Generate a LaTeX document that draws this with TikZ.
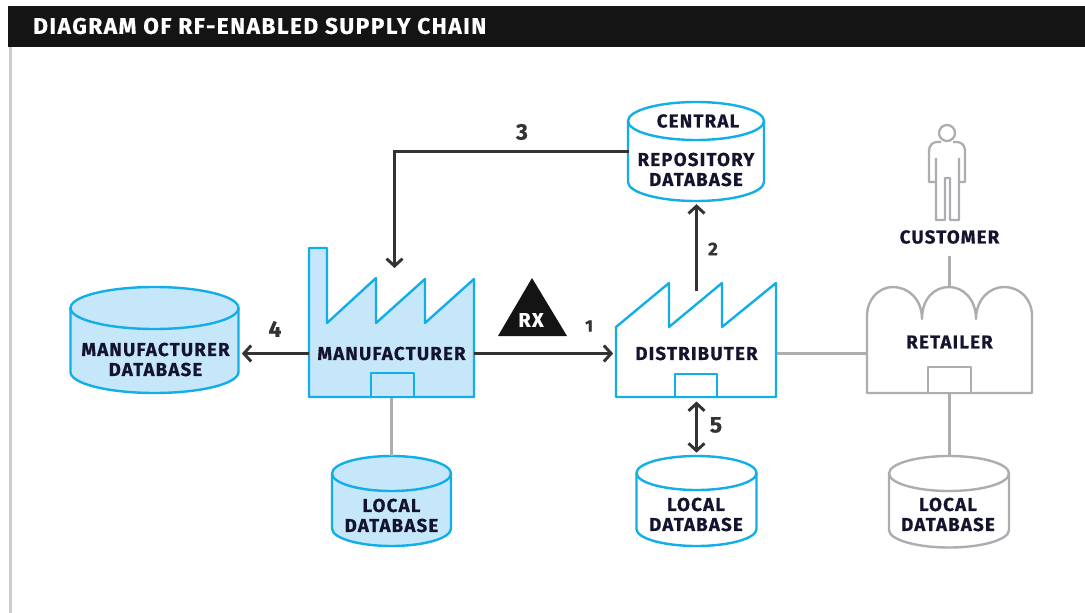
\documentclass[tikz,border=0pt]{standalone}
\usepackage{fontspec}
\setmainfont{Fira Sans}[LetterSpace=6.5,BoldFeatures={FakeBold=0.5}]
\usetikzlibrary{arrows.meta}
\definecolor{cyanline}{HTML}{12AEE8}
\definecolor{cyanfill}{HTML}{C6E7F9}
\definecolor{greyline}{HTML}{ABADB0}
\definecolor{arrowdark}{HTML}{333333}
\definecolor{labelink}{HTML}{14142E}
\tikzset{
  x=0.75pt,y=-0.75pt,
  >={Straight Barb[length=5.5pt,width=12pt]},
  lbl/.style={font=\fontsize{14}{15}\selectfont\bfseries,text=labelink,align=center,inner sep=0pt,outer sep=0pt},
  numlbl/.style={font=\fontsize{17}{18}\selectfont\bfseries,text=arrowdark,inner sep=0pt},
  anchorbox/.style={inner sep=0pt,outer sep=0pt,draw=none,fill=none},
  bluefill/.style={draw=cyanline,fill=cyanfill,line width=1.8pt,line join=round},
  blueopen/.style={draw=cyanline,fill=white,line width=1.8pt,line join=round},
  greyopen/.style={draw=greyline,fill=white,line width=1.8pt,line join=round},
  flow/.style={draw=arrowdark,line width=2.2pt,->},
  flowboth/.style={draw=arrowdark,line width=2.2pt,<->},
  tie/.style={draw=greyline,line width=2.2pt},
}
% centre x, top-ellipse centre y, bottom-ellipse centre y, rx, ry, style
\newcommand{\dbdrum}[6]{%
  \path[#6] (#1-#4,#2) -- (#1-#4,#3) arc[start angle=180,end angle=360,x radius=#4,y radius=-#5] -- (#1+#4,#2)
     arc[start angle=0,end angle=180,x radius=#4,y radius=-#5] -- cycle;
  \path[#6,fill=none] (#1-#4,#2) arc[start angle=180,end angle=360,x radius=#4,y radius=-#5];
}
\begin{document}
\begin{tikzpicture}
\useasboundingbox (0,0) rectangle (1085,613);
\fill[white] (0,0) rectangle (1085,613);
% page furniture
\fill[black!92] (8,6) rectangle (1085,47);
\fill[black!20] (8.5,47) rectangle (11.5,613);
\node[font=\fontsize{17}{18}\selectfont\bfseries,text=white,anchor=west,inner sep=0pt] (title) at (33,26) {DIAGRAM OF RF-ENABLED SUPPLY CHAIN};

% databases
\dbdrum{154.5}{308}{372}{84}{21}{bluefill}
\dbdrum{391.5}{473.5}{528.5}{59.5}{17.5}{bluefill}
\dbdrum{696}{121}{182}{68}{19}{blueopen}
\dbdrum{696.5}{473}{529}{60}{17}{blueopen}
\dbdrum{949}{473.5}{530}{60}{17.5}{greyopen}

% manufacturer factory
\path[bluefill] (309,248) -- (327,248) -- (327,323) -- (376,278) -- (376,323) -- (425,279) -- (425,323) -- (474,279) -- (474,397) -- (309,397) -- cycle;
\path[bluefill] (371,373) rectangle (414,397);
% distributer factory
\path[blueopen] (616,327) -- (669,283) -- (669,327) -- (722,283) -- (722,327) -- (776,283) -- (776,397) -- (616,397) -- cycle;
\path[blueopen] (675,374) rectangle (717,397);
% retailer
\path[greyopen] (867,393) -- (867,316) .. controls (867,299) and (879,287) .. (893,287) .. controls (908,287) and (922,299) .. (922,319)
   .. controls (922,299) and (934,287) .. (949,287) .. controls (963,287) and (976,299) .. (976,319)
   .. controls (976,299) and (990,287) .. (1004,287) .. controls (1020,287) and (1032,299) .. (1032,316) -- (1032,393) -- cycle;
\path[greyopen] (928,367) rectangle (971,393);
% customer figure
\draw[greyline,line width=1.7pt,line join=round] (947,133) circle[radius=8];
\draw[greyline,line width=1.7pt,line join=round]
  (941,142) -- (937,142) .. controls (932,142) and (929,146) .. (929,151) -- (929,182) -- (936,182)
  (936,158) -- (936,220) -- (945,220) -- (945,178) -- (950,178) -- (950,220) -- (959,220) -- (959,158)
  (959,182) -- (965,182) -- (965,151) .. controls (965,146) and (962,142) .. (957,142) -- (953,142);

% triangle
\fill[black!92,line join=round] (532,278) -- (567,336) -- (498,336) -- cycle;
\node[font=\fontsize{15}{16}\selectfont\bfseries,text=white,inner sep=0pt] (rx) at (531,320) {RX};

% text-bearing nodes, sized to the bodies they label
\node[lbl,minimum width=123.75pt,minimum height=66pt] (manufacturer) at (391.5,353.5) {MANUFACTURER};
\node[lbl,minimum width=120pt,minimum height=65pt] (distributer) at (696.5,353.5) {DISTRIBUTER};
\node[lbl,minimum width=123.75pt,minimum height=58.5pt] (retailer) at (949.5,353.5) {};
\node[lbl] (retailertext) at (949.5,342) {RETAILER};
\node[lbl,minimum height=28.5pt] (customer) at (949.5,237) {CUSTOMER};
\node[lbl] (mfgdbtext) at (155.5,359.5) {MANUFACTURER\\DATABASE};
\node[anchorbox,minimum width=126pt,minimum height=79.5pt] (mfgdb) at (154.5,353.5) {};
\node[lbl] (mfglocaltext) at (391.5,515.5) {LOCAL\\DATABASE};
\node[anchorbox,minimum width=89pt,minimum height=67.5pt] (mfglocal) at (391.5,501) {};
\node[lbl] (centraltop) at (698,121) {CENTRAL};
\node[lbl] (centraltext) at (696,169.5) {REPOSITORY\\DATABASE};
\node[anchorbox,minimum width=102pt,minimum height=75pt] (central) at (696.5,151.5) {};
\node[lbl] (distlocaltext) at (696,514.5) {LOCAL\\DATABASE};
\node[anchorbox,minimum width=90pt,minimum height=67.5pt] (distlocal) at (696.5,501) {};
\node[lbl] (retlocaltext) at (948,514.5) {LOCAL\\DATABASE};
\node[anchorbox,minimum width=90pt,minimum height=68pt] (retlocal) at (949.5,501.5) {};

% free ends
\coordinate (mfgroof) at (394.5,268);
\coordinate (distroof) at (696.5,291);
\coordinate (rettop) at (949.5,287);

% numbers
\node[numlbl] (n3) at (522,132) {3};
\node[numlbl] (n4) at (275,329) {4};
\node[numlbl,font=\fontsize{12.5}{14}\selectfont\bfseries] (n1) at (589,326) {1};
\node[numlbl,font=\fontsize{14}{14}\selectfont\bfseries] (n2) at (713,249) {2};
\node[numlbl] (n5) at (716,425) {5};

% connectors
\draw[flow] (central.west) -| (mfgroof);
\draw[flow] (manufacturer.west) -- ([xshift=2.5pt]mfgdb.east);
\draw[flow] (manufacturer.east) -- ([xshift=-2.5pt]distributer.west);
\draw[flow] (distroof) -- ([yshift=-2pt]central.south);
\draw[flowboth] ([yshift=-3.5pt]distributer.south) -- ([yshift=2.5pt]distlocal.north);
\draw[tie] (manufacturer.south) -- (mfglocal.north);
\draw[tie] (distributer.east) -- (retailer.west);
\draw[tie] (customer.south) -- (rettop);
\draw[tie] (retailer.south) -- (retlocal.north);
\end{tikzpicture}
\end{document}
